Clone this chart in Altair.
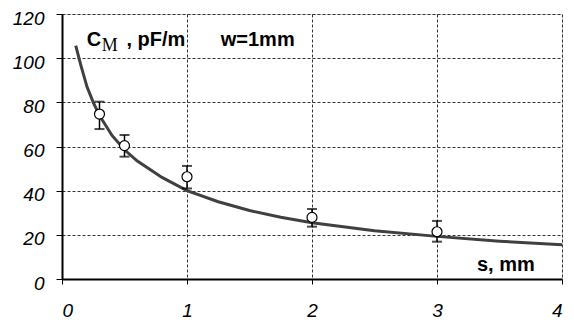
import altair as alt
import pandas as pd

# Fitted curve
curve_s = [0.11, 0.15, 0.2, 0.25, 0.3, 0.4, 0.5, 0.6, 0.8, 1.0, 1.25, 1.5, 1.75, 2.0, 2.5, 3.0, 3.5, 4.0]
curve_c = [105.7, 97, 87, 80, 74, 65, 58.5, 53.5, 46, 40, 35, 31, 28, 25.5, 21.8, 19.3, 17.1, 15.5]

# Measured points with error bars
meas_s = [0.3, 0.5, 1.0, 2.0, 3.0]
meas_c = [74.7, 60.4, 46.3, 27.9, 21.4]
meas_lo = [67.9, 55.4, 41, 23.7, 16.9]
meas_hi = [80.3, 65.2, 51.2, 31.7, 26.3]

x_ticks = [0, 1, 2, 3, 4]
y_ticks = [0, 20, 40, 60, 80, 100, 120]

curve = pd.DataFrame({"s": curve_s, "c": curve_c})
meas = pd.DataFrame({"s": meas_s, "c": meas_c, "lo": meas_lo, "hi": meas_hi})

FONT = "Liberation Sans"
xsc = alt.Scale(domain=[0, 4], nice=False, zero=False)
ysc = alt.Scale(domain=[0, 120], nice=False)

xax = alt.Axis(values=x_ticks, title=None, grid=True, gridDash=[3, 2], gridColor="#333",
               gridWidth=1, domainColor="black", domainWidth=2, tickColor="black",
               tickSize=5, labelFont=FONT, labelFontSize=19, labelFontStyle="italic",
               labelColor="black", labelPadding=17, format="d")
yax = alt.Axis(values=y_ticks, title=None, grid=True, gridDash=[3, 2], gridColor="#333",
               gridWidth=1, domainColor="black", domainWidth=2, tickColor="black",
               tickSize=6, labelFont=FONT, labelFontSize=19, labelFontStyle="italic",
               labelColor="black", labelPadding=12, labelOffset=4, format="d")

base_x = alt.X("s:Q", scale=xsc, axis=xax)
base_y = alt.Y("c:Q", scale=ysc, axis=yax)

line = alt.Chart(curve).mark_line(color="#404040", strokeWidth=3).encode(x=base_x, y=base_y)

bars = alt.Chart(meas).mark_rule(color="black", strokeWidth=1.5).encode(
    x="s:Q", y="lo:Q", y2="hi:Q")
cap_lo = alt.Chart(meas).mark_tick(color="black", thickness=2, size=10, orient="horizontal").encode(
    x="s:Q", y="lo:Q")
cap_hi = alt.Chart(meas).mark_tick(color="black", thickness=2, size=10, orient="horizontal").encode(
    x="s:Q", y="hi:Q")
pts = alt.Chart(meas).mark_point(shape="circle", filled=True, fill="white", stroke="black",
                                 strokeWidth=1.2, size=100, opacity=1).encode(x="s:Q", y="c:Q")

labels = pd.DataFrame({
    "s": [0.198, 0.516, 1.27, 3.32],
    "c": [108.2, 108.2, 108.2, 6.3],
    "t": ["C", ", pF/m", "w=1mm", "s, mm"],
})
txt_main = alt.Chart(labels).mark_text(font=FONT, fontSize=20, fontWeight="bold",
                                       align="left", baseline="middle", color="black").encode(
    x="s:Q", y="c:Q", text="t:N")
sub = pd.DataFrame({"s": [0.318], "c": [105.3], "t": ["M"]})
txt_sub = alt.Chart(sub).mark_text(font="Liberation Serif", fontSize=18, align="left",
                                   baseline="middle", color="black").encode(
    x="s:Q", y="c:Q", text="t:N")

chart = alt.layer(line, bars, cap_lo, cap_hi, pts, txt_main, txt_sub).properties(
    width=500, height=265,
    padding={"left": 54, "top": 6, "right": 4, "bottom": 42},
    autosize=alt.AutoSizeParams(type="none"),
).configure_view(stroke="black", strokeWidth=2).configure(background="white")

chart.save("out.html", embed_options={"renderer": "svg", "actions": False})
